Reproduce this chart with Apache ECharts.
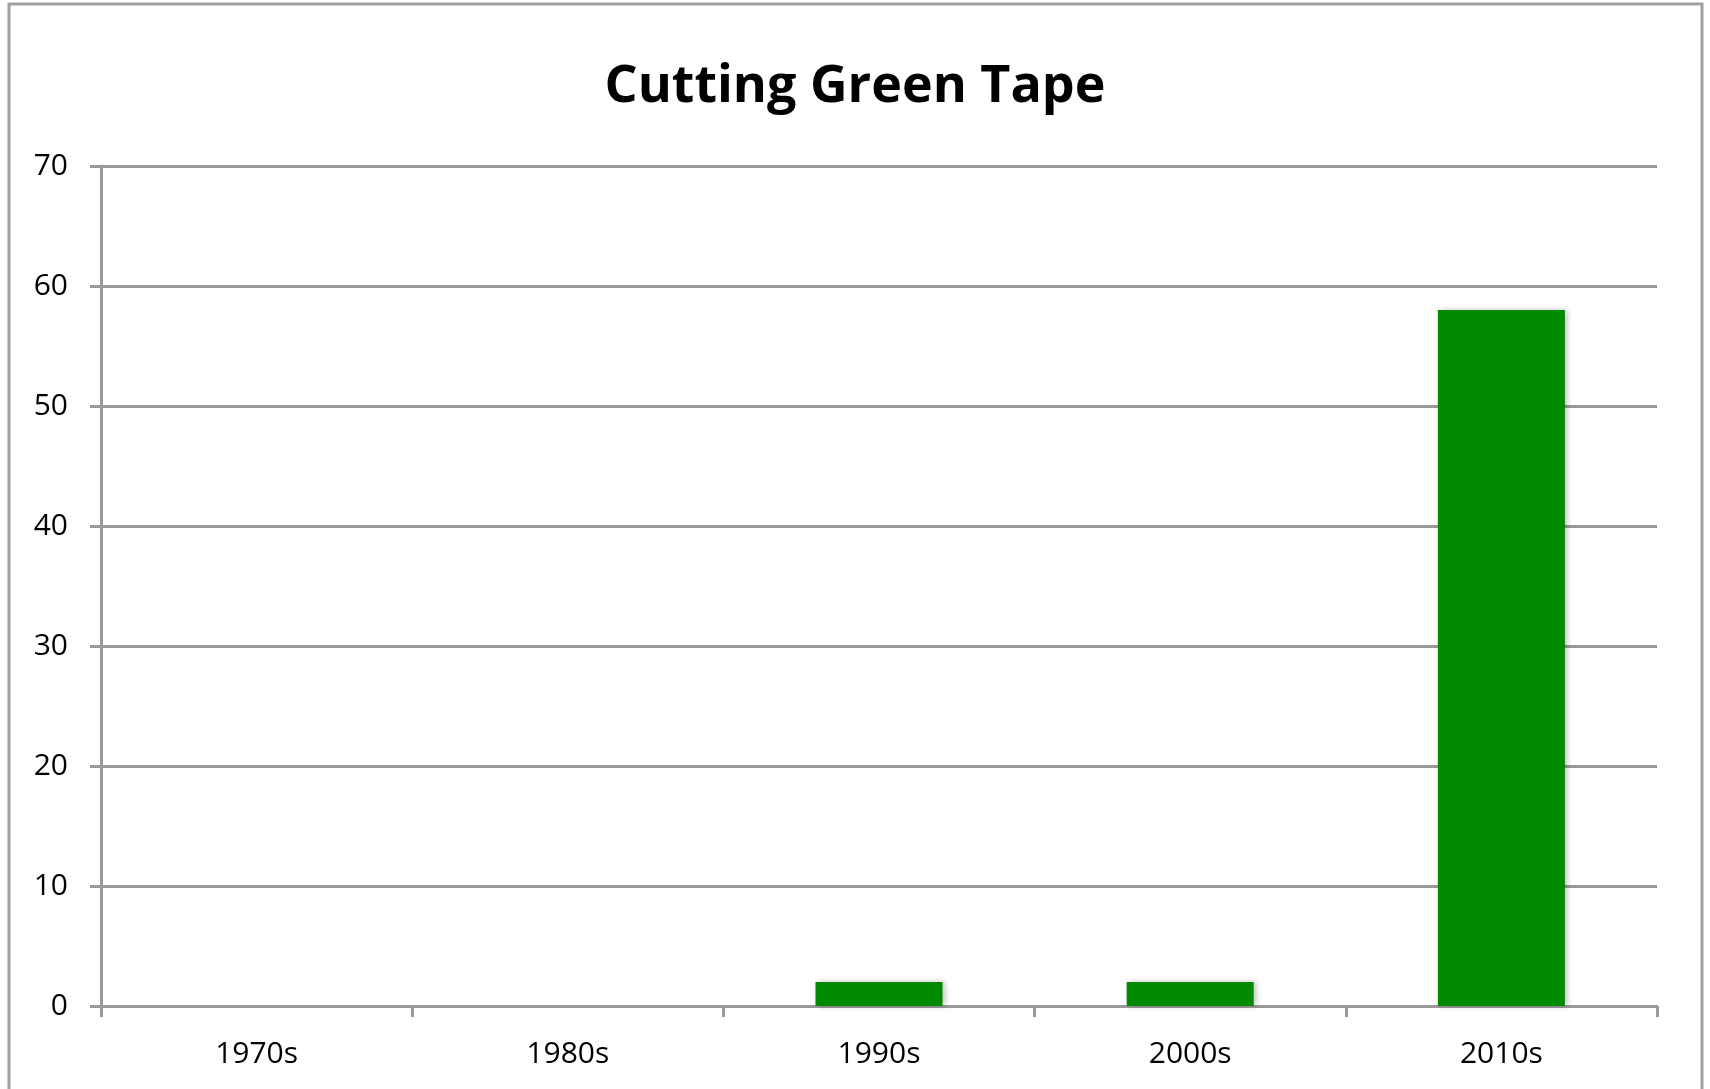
<!DOCTYPE html>
<html>
<head>
<meta charset="utf-8">
<style>
html,body{margin:0;padding:0;background:#fff;}
#chart{width:1710px;height:1089px;}
</style>
<script src="https://cdn.jsdelivr.net/npm/echarts@6/dist/echarts.min.js"></script>
</head>
<body>
<div id="chart"></div>
<script>
const titleText = 'Cutting Green Tape';
const categories = ['1970s', '1980s', '1990s', '2000s', '2010s'];
const values = [0, 0, 2, 2, 58];
const yTicks = { min: 0, max: 70, interval: 10 };

const chart = echarts.init(document.getElementById('chart'));
const gray = '#999999';
const font = '"Open Sans", "Liberation Sans", sans-serif';

chart.setOption({
  backgroundColor: '#ffffff',
  animation: false,
  title: {
    text: titleText,
    left: 'center',
    top: 56,
    textStyle: { fontFamily: font, fontWeight: 'bold', fontSize: 52, color: '#000' }
  },
  graphic: [{
    type: 'rect',
    shape: { x: 9, y: 4, width: 1693, height: 1200 },
    style: { fill: 'none', stroke: '#a0a0a0', lineWidth: 3 },
    silent: true
  }],
  grid: { left: 101, right: 53, top: 166, bottom: 83, containLabel: false },
  xAxis: {
    type: 'category',
    data: categories,
    boundaryGap: true,
    axisLine: { show: true, lineStyle: { color: gray, width: 3 } },
    axisTick: { show: true, alignWithLabel: false, length: 11, lineStyle: { color: gray, width: 3 } },
    axisLabel: { color: '#000', fontFamily: font, fontSize: 30, margin: 33 },
    splitLine: { show: false }
  },
  yAxis: {
    type: 'value',
    min: yTicks.min,
    max: yTicks.max,
    interval: yTicks.interval,
    axisLine: { show: true, lineStyle: { color: gray, width: 3 } },
    axisTick: { show: true, length: 11, lineStyle: { color: gray, width: 3 } },
    axisLabel: { color: '#000', fontFamily: font, fontSize: 30, margin: 33, padding: [10, 0, 0, 0] },
    splitLine: { show: true, lineStyle: { color: gray, width: 3 } }
  },
  series: [{
    type: 'bar',
    data: values,
    barWidth: 127,
    itemStyle: {
      color: '#008a00',
      shadowColor: 'rgba(0,0,0,0.25)',
      shadowBlur: 6,
      shadowOffsetX: 2,
      shadowOffsetY: 0
    }
  }]
});
</script>
</body>
</html>
